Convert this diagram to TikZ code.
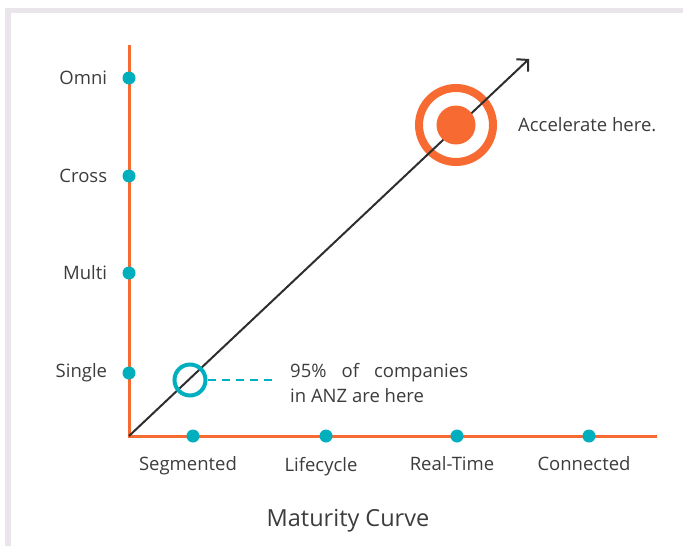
\documentclass[tikz,border=0pt]{standalone}
\usepackage{fontspec}
\setmainfont{Open Sans}
\usetikzlibrary{positioning,arrows.meta}

\definecolor{axisorange}{HTML}{F76B33}
\definecolor{dotteal}{HTML}{00AFBE}
\definecolor{txtgray}{HTML}{3C3C3C}
\definecolor{framegray}{HTML}{E9E5EB}
\definecolor{linegray}{HTML}{2E2E2E}

\begin{document}
\begin{tikzpicture}[x=1pt, y=-1pt,
    axis/.style={draw=axisorange, line width=3pt},
    dot/.style={circle, fill=dotteal, inner sep=0pt, minimum size=13pt},
    lbl/.style={text=txtgray, inner sep=0pt, font=\fontsize{18.5}{25}\selectfont},
    >={Straight Barb[length=8pt, width=17pt]}]

  \useasboundingbox (0,0) rectangle (683,546);

  % frame edge
  \fill[framegray] (5,8) rectangle (683,13);
  \fill[framegray] (5,8) rectangle (11,546);

  % axes
  \coordinate (O) at (129,436);
  \coordinate (ytop) at (129,45);
  \coordinate (xend) at (657,436);
  \draw[axis] (ytop) -- (O) -- (xend);

  \foreach \y/\name/\txt in {78/omni/Omni, 176/cross/Cross, 273/multi/Multi, 373/single/Single} {
    \node[dot] (\name) at (129,\y) {};
    \node[lbl, left=15pt of \name] (\name-l) {\txt};
  }

  \foreach \x/\name/\txt in {193/seg/Segmented, 326/life/Lifecycle, 457/real/Real-Time, 589/conn/Connected} {
    \node[dot] (\name) at (\x,436) {};
    \node[lbl, below=14pt of \name, xshift=-5pt] (\name-l) {\txt};
  }

  % maturity line
  \node[circle, draw=axisorange, line width=8pt, minimum size=74pt] (target) at (456,125) {};
  \coordinate (tip) at (529,59);
  \draw[->, draw=linegray, line width=2pt] (O) -- (tip);
  \node[circle, fill=axisorange, inner sep=0pt, minimum size=39pt] (hit) at (target) {};
  \node[lbl, right=21pt of target] (accel) {Accelerate here.};

  \node[circle, draw=dotteal, line width=4pt, minimum size=31pt] (here) at (190,380) {};
  \coordinate (dashend) at (273,380);
  \draw[draw=dotteal, line width=2pt, dash pattern=on 8pt off 6pt] (here.east) -- (dashend);
  \node[lbl, align=left, right=17pt of dashend, yshift=-3pt] (share) {95\%\hspace{15pt}of\hspace{15pt}companies\\in ANZ are here};

  \node[lbl, font=\fontsize{23.5}{28}\selectfont] (title) at (348,521) {Maturity Curve};

\end{tikzpicture}
\end{document}
